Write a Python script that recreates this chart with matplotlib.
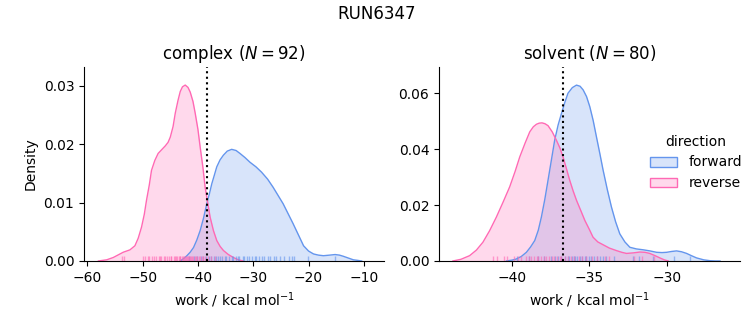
import numpy as np
import matplotlib.pyplot as plt
from matplotlib.patches import Patch
from matplotlib.colors import to_rgba

# colours
C_FWD = "cornflowerblue"
C_REV = "hotpink"

# ---------------------------------------------------------
# Density curves (work, density)
# ---------------------------------------------------------
cx_rev_x = [-58.0, -56.5, -55.3, -54.3, -53.5, -52.3, -51.4, -50.8, -50.2, -49.7, -49.3, -48.8,
            -48.4, -47.8, -47.2, -46.5, -45.9, -45.4, -45.0, -44.5, -44.1, -43.6, -43.2, -42.8,
            -42.3, -41.8, -41.4, -40.9, -40.5, -40.0, -39.6, -39.1, -38.7, -38.2, -37.8, -37.2,
            -36.6, -36.0, -35.4, -34.5, -33.6, -32.7, -31.8]
cx_rev_y = [0.0, 0.0002, 0.0006, 0.0011, 0.0015, 0.0019, 0.0026, 0.0039, 0.0058, 0.0080, 0.0104, 0.0130,
            0.0155, 0.0172, 0.0184, 0.0191, 0.0197, 0.0203, 0.0212, 0.0230, 0.0253, 0.0275, 0.0290, 0.0298,
            0.0301, 0.0297, 0.0289, 0.0273, 0.0253, 0.0225, 0.0195, 0.0160, 0.0126, 0.0098, 0.0075, 0.0052,
            0.0035, 0.0025, 0.0018, 0.0011, 0.0006, 0.0002, 0.0]

cx_fwd_x = [-43.2, -42.6, -42.0, -41.4, -40.8, -40.2, -39.6, -39.0, -38.4, -37.9, -37.5, -37.0,
            -36.6, -36.0, -35.4, -34.7, -33.9, -33.1, -32.4, -31.5, -30.6, -29.5, -28.5, -27.4,
            -26.4, -25.5, -24.6, -23.7, -22.8, -21.8, -20.9, -20.0, -19.1, -18.2, -17.3, -16.2,
            -15.2, -14.4, -13.7, -12.8, -11.9, -11.1, -10.4]
cx_fwd_y = [0.0, 0.0004, 0.0009, 0.0015, 0.0023, 0.0036, 0.0052, 0.0073, 0.0098, 0.0116, 0.0132, 0.0148,
            0.0161, 0.0173, 0.0181, 0.0188, 0.0191, 0.0189, 0.0184, 0.0177, 0.0169, 0.0161, 0.0152, 0.0140,
            0.0126, 0.0112, 0.0098, 0.0081, 0.0064, 0.0044, 0.0026, 0.0017, 0.0012, 0.0010, 0.0009, 0.0010,
            0.0011, 0.0010, 0.0008, 0.0005, 0.0002, 0.0001, 0.0]

sv_rev_x = [-43.82, -43.3, -42.74, -42.3, -41.88, -41.45, -41.01, -40.58, -40.15, -39.8, -39.50, -39.15,
            -38.85, -38.62, -38.42, -38.24, -38.06, -37.87, -37.67, -37.40, -37.13, -36.90, -36.70, -36.48,
            -36.27, -36.05, -35.83, -35.55, -35.29, -35.00, -34.76, -34.45, -34.11, -33.70, -33.24, -32.90,
            -32.60, -32.15, -31.73, -31.40, -31.09, -30.75, -30.44, -30.15, -29.90]
sv_rev_y = [0.0, 0.0006, 0.0019, 0.0039, 0.0067, 0.0108, 0.0157, 0.0210, 0.0265, 0.0320, 0.0372, 0.0422,
            0.0462, 0.0480, 0.0489, 0.0493, 0.0494, 0.0491, 0.0484, 0.0462, 0.0432, 0.0404, 0.0372, 0.0330,
            0.0289, 0.0251, 0.0217, 0.0180, 0.0145, 0.0113, 0.0085, 0.0068, 0.0058, 0.0046, 0.0037, 0.0031,
            0.0027, 0.0029, 0.0032, 0.0031, 0.0027, 0.0019, 0.0011, 0.0004, 0.0]

sv_fwd_x = [-40.36, -40.0, -39.72, -39.40, -39.07, -38.80, -38.53, -38.30, -38.10, -37.88, -37.67, -37.45,
            -37.24, -37.02, -36.80, -36.58, -36.38, -36.10, -35.83, -35.60, -35.40, -35.18, -34.97, -34.75,
            -34.54, -34.32, -34.11, -33.84, -33.57, -33.30, -33.03, -32.70, -32.38, -31.95, -31.52, -31.08,
            -30.65, -30.30, -30.00, -29.68, -29.36, -29.04, -28.71, -28.40, -28.07, -27.60, -27.20, -26.85,
            -26.55]
sv_fwd_y = [0.0, 0.0003, 0.0007, 0.0016, 0.0031, 0.0050, 0.0073, 0.0110, 0.0157, 0.0220, 0.0289, 0.0362,
            0.0432, 0.0486, 0.0528, 0.0568, 0.0600, 0.0620, 0.0629, 0.0625, 0.0612, 0.0588, 0.0552, 0.0502,
            0.0444, 0.0384, 0.0325, 0.0256, 0.0193, 0.0140, 0.0097, 0.0068, 0.0049, 0.0043, 0.0040, 0.0036,
            0.0031, 0.0030, 0.0031, 0.0034, 0.0036, 0.0033, 0.0027, 0.0019, 0.0011, 0.0004, 0.0001, 0.0,
            0.0]

# ---------------------------------------------------------
# Individual work values (rug marks)
# ---------------------------------------------------------
cx_rev_w = [-53.7, -53.3, -50.0, -49.5, -49.1, -48.9, -48.3, -48.0, -47.6, -47.1, -46.8, -46.6,
            -46.1, -45.9, -45.6, -45.2, -44.9, -44.8, -44.4, -44.1, -43.9, -43.7, -43.5, -43.3,
            -43.2, -42.9, -42.7, -42.6, -42.3, -42.2, -42.0, -41.8, -41.7, -41.4, -41.3, -41.0,
            -40.9, -40.6, -40.4, -40.1, -39.8, -39.6, -39.3, -39.1, -38.7, -38.2, -37.6, -36.9]
cx_fwd_w = [-41.6, -40.7, -40.2, -39.4, -39.1, -38.5, -38.0, -37.7, -37.1, -36.8, -36.3, -36.0,
            -35.6, -35.1, -34.9, -34.4, -33.9, -33.6, -33.2, -32.7, -32.5, -31.9, -31.6, -31.1,
            -30.8, -30.3, -29.7, -29.5, -28.9, -28.4, -28.1, -27.4, -26.9, -26.3, -25.9, -25.1,
            -24.5, -23.6, -23.0, -22.7, -20.1, -15.2]

sv_rev_w = [-41.2, -41.0, -40.5, -40.3, -39.9, -39.6, -39.4, -39.1, -38.9, -38.8, -38.6, -38.4,
            -38.3, -38.1, -37.9, -37.8, -37.6, -37.4, -37.3, -37.1, -36.9, -36.8, -36.6, -36.4,
            -36.2, -36.0, -35.7, -35.5, -35.2, -34.8, -34.5, -34.0, -33.7, -32.1, -31.6, -30.8]
sv_fwd_w = [-39.7, -38.9, -38.3, -37.9, -37.5, -37.2, -37.0, -36.8, -36.6, -36.4, -36.3, -36.1,
            -36.0, -35.9, -35.8, -35.6, -35.5, -35.3, -35.2, -35.0, -34.9, -34.7, -34.5, -34.3,
            -34.1, -33.9, -33.4, -32.2, -31.8, -30.9, -29.5, -28.5]

cx_mark = -38.35
sv_mark = -36.72

# ---------------------------------------------------------
# Figure
# ---------------------------------------------------------
fig = plt.figure(figsize=(7.53, 3.25), dpi=100)
ax1 = fig.add_axes([0.1116, 0.197, 0.3984, 0.597])
ax2 = fig.add_axes([0.583, 0.197, 0.3997, 0.597])

panels = [
    (ax1, "complex ($N = 92$)", cx_fwd_x, cx_fwd_y, cx_rev_x, cx_rev_y, cx_fwd_w, cx_rev_w, cx_mark),
    (ax2, "solvent ($N = 80$)", sv_fwd_x, sv_fwd_y, sv_rev_x, sv_rev_y, sv_fwd_w, sv_rev_w, sv_mark),
]

for ax, title, fx, fy, rx, ry, fw, rw, mark in panels:
    for x, y, c in [(fx, fy, C_FWD), (rx, ry, C_REV)]:
        ax.fill_between(x, y, 0, color=c, alpha=0.25, lw=0)
        ax.plot(x, y, color=c, lw=1)
    for w, c in [(fw, C_FWD), (rw, C_REV)]:
        ax.vlines(w, 0, 0.025, colors=c, lw=1, alpha=0.6, transform=ax.get_xaxis_transform())
    ax.axvline(mark, color="k", ls=":", lw=1.5)
    ax.set_title(title, fontsize=12)
    ax.set_xlabel("work / kcal mol$^{-1}$")
    ax.spines["top"].set_visible(False)
    ax.spines["right"].set_visible(False)

ax1.set_xlim(-60.6, -6.35)
ax1.set_ylim(0, 0.0332)
ax1.set_yticks([0, 0.01, 0.02, 0.03])
ax1.set_yticklabels(["0.00", "0.01", "0.02", "0.03"])
ax1.set_ylabel("Density")

ax2.set_xlim(-44.72, -25.26)
ax2.set_ylim(0, 0.0694)
ax2.set_xticks([-40, -35, -30])
ax2.set_yticks([0, 0.02, 0.04, 0.06])
ax2.set_yticklabels(["0.00", "0.02", "0.04", "0.06"])

handles = [Patch(facecolor=to_rgba(C_FWD, 0.25), edgecolor=C_FWD, label="forward"),
           Patch(facecolor=to_rgba(C_REV, 0.25), edgecolor=C_REV, label="reverse")]
fig.legend(handles=handles, title="direction", frameon=False,
           loc="center left", bbox_to_anchor=(0.846, 0.50))

fig.suptitle("RUN6347", fontsize=12, y=0.985)

plt.savefig("out.png", dpi=100)
